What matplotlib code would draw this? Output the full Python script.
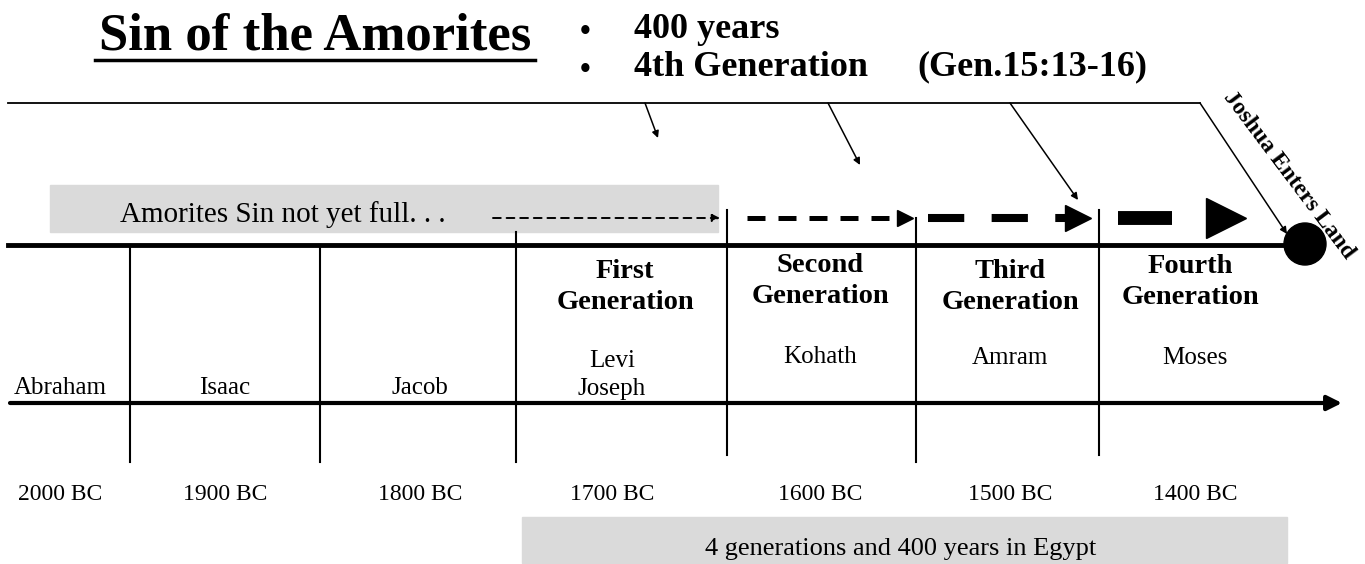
import matplotlib.pyplot as plt
from matplotlib.patches import Rectangle, Circle

# --- content ---
title = "Sin of the Amorites"
bullets = ["400 years", "4th Generation"]
reference = "(Gen.15:13-16)"
people = ["Abraham", "Isaac", "Jacob", "Levi\nJoseph", "Kohath", "Amram", "Moses"]
years = [2000, 1900, 1800, 1700, 1600, 1500, 1400]
generations = ["First\nGeneration", "Second\nGeneration",
               "Third\nGeneration", "Fourth\nGeneration"]
sin_note = "Amorites Sin not yet full. . ."
egypt_note = "4 generations and 400 years in Egypt"
event = "Joshua Enters Land"

# --- layout (pixel space) ---
col_x = [60, 225, 420, 612, 820, 1010, 1195]
name_y = [388, 388, 388, 375, 357, 358, 358]
gen_x = [625, 820, 1010, 1190]
gen_y = [287, 281, 287, 282]
dividers = [130, 320, 516, 727, 916, 1099]
div_top = [245, 245, 232, 210, 218, 210]
div_bot = [462, 462, 462, 455, 462, 455]

serif = "Liberation Serif"

fig = plt.figure(figsize=(13.65, 5.64), dpi=100)
ax = fig.add_axes([0, 0, 1, 1])
ax.set_xlim(0, 1365)
ax.set_ylim(564, 0)
ax.axis("off")

# title + bullets
ax.text(315, 36, title, family=serif, weight="bold", fontsize=38,
        ha="center", va="center")
ax.plot([95, 535], [60, 60], color="black", lw=2.5)
for i, b in enumerate(bullets):
    y = 29 + i * 38
    ax.text(585, y + 3, "\u2022", family=serif, weight="bold", fontsize=22,
            ha="center", va="center")
    ax.text(634, y, b, family=serif, weight="bold", fontsize=26,
            ha="left", va="center")
ax.text(917, 67, reference, family=serif, weight="bold", fontsize=26,
        ha="left", va="center")

# top bracket line with arrows
ax.plot([8, 1200], [103, 103], color="black", lw=1.3)
for (x0, x1, y1) in [(645, 658, 138), (828, 860, 165), (1010, 1078, 200),
                     (1200, 1287, 234)]:
    ax.annotate("", xy=(x1, y1), xytext=(x0, 103),
                arrowprops=dict(arrowstyle="-|>", color="black", lw=1.1,
                                mutation_scale=10, shrinkA=0, shrinkB=0))
ax.text(1289, 175, event, family=serif, weight="bold", fontsize=17,
        rotation=-53, rotation_mode="anchor", ha="center", va="center")

# shaded boxes
ax.add_patch(Rectangle((50, 185), 668, 47, color="#dadada", zorder=0))
ax.add_patch(Rectangle((522, 517), 765, 46, color="#dadada", zorder=0))
ax.text(120, 215, sin_note, family=serif, fontsize=21, ha="left", va="center")
ax.text(705, 549, egypt_note, family=serif, fontsize=19, ha="left", va="center")

# growing dashed arrows
ax.annotate("", xy=(720, 218), xytext=(493, 218),
            arrowprops=dict(arrowstyle="-|>", color="black", lw=1.4,
                            linestyle=(0, (4, 3)), mutation_scale=11,
                            shrinkA=0, shrinkB=0))
ax.plot([747, 897], [218, 218], color="black", lw=3.6, dashes=(3.6, 2.6),
        dash_capstyle="butt")
ax.plot([905], [218], marker=">", color="black", markersize=11)
ax.plot([928, 1066], [218, 218], color="black", lw=5.8, dashes=(4.5, 3.4),
        dash_capstyle="butt")
ax.plot([1078], [218], marker=">", color="black", markersize=19)
ax.plot([1118, 1172], [218, 218], color="black", lw=10, solid_capstyle="butt")
ax.plot([1226], [218], marker=">", color="black", markersize=29)

# main timelines
ax.plot([8, 1290], [245, 245], color="black", lw=3.5)
ax.add_patch(Circle((1305, 244), 21, color="black", zorder=5))
ax.annotate("", xy=(1342, 403), xytext=(10, 403),
            arrowprops=dict(arrowstyle="-|>", color="black", lw=3,
                            mutation_scale=22, shrinkA=0, shrinkB=0))
for x, y0, y1 in zip(dividers, div_top, div_bot):
    ax.plot([x, x], [y0, y1], color="black", lw=1.5)

# generation labels
for x, y, g in zip(gen_x, gen_y, generations):
    ax.text(x, y, g, family=serif, weight="bold", fontsize=20.5,
            ha="center", va="center", linespacing=1.3)

# people and dates
for x, y, p in zip(col_x, name_y, people):
    ax.text(x, y, p, family=serif, fontsize=18, ha="center", va="center",
            linespacing=1.3)
for x, yr in zip(col_x, years):
    ax.text(x, 494, f"{yr} BC", family=serif, fontsize=17,
            ha="center", va="center")

fig.savefig("out.png", dpi=100)
